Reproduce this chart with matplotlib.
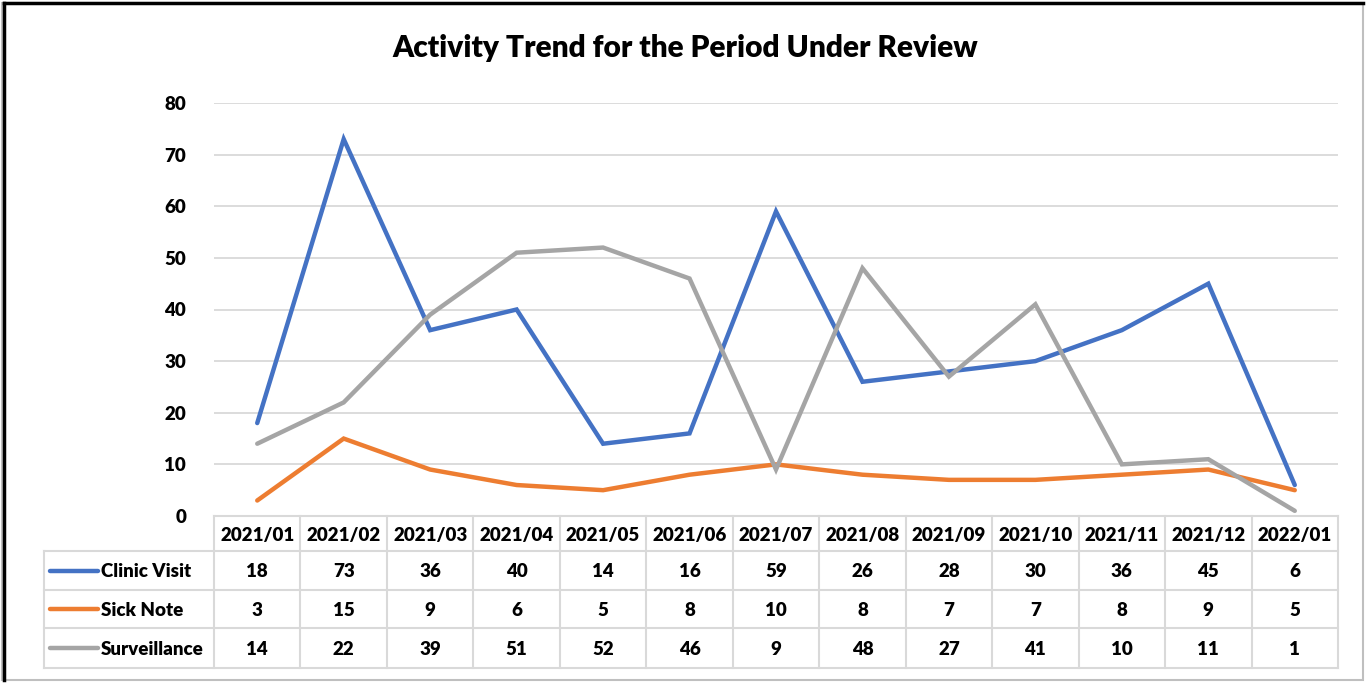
import matplotlib
matplotlib.use('Agg')
import matplotlib.pyplot as plt
from matplotlib.lines import Line2D
from matplotlib.patches import Rectangle

# data
months = ["2021/01", "2021/02", "2021/03", "2021/04", "2021/05", "2021/06", "2021/07",
          "2021/08", "2021/09", "2021/10", "2021/11", "2021/12", "2022/01"]
clinic_visit = [18, 73, 36, 40, 14, 16, 59, 26, 28, 30, 36, 45, 6]
sick_note = [3, 15, 9, 6, 5, 8, 10, 8, 7, 7, 8, 9, 5]
surveillance = [14, 22, 39, 51, 52, 46, 9, 48, 27, 41, 10, 11, 1]
series_names = ["Clinic Visit", "Sick Note", "Surveillance"]
series_colors = ["#4472C4", "#ED7D31", "#A5A5A5"]
yticks = [0, 10, 20, 30, 40, 50, 60, 70, 80]

plt.rcParams['font.family'] = ['Lato', 'DejaVu Sans']
plt.rcParams['font.weight'] = 'heavy'
FW = 'heavy'

W, H = 1367, 683
fig = plt.figure(figsize=(W / 100, H / 100), dpi=100)

def px(x0, y0, x1, y1):
    # pixel box (top-left origin) -> figure fraction rect
    return [x0 / W, 1 - y1 / H, (x1 - x0) / W, (y1 - y0) / H]

# chart border
fig.patches.append(Rectangle((2 / W, 3 / H), (W - 6) / W, (H - 6) / H, transform=fig.transFigure,
                             fill=False, edgecolor='#BFBFBF', linewidth=1.5))
fig.add_artist(Line2D([4 / W, 4 / W], [3 / H, 1 - 3 / H], transform=fig.transFigure, color='black', lw=2.5))
fig.add_artist(Line2D([4 / W, 1 - 4 / W], [1 - 3 / H, 1 - 3 / H], transform=fig.transFigure, color='black', lw=2.5))

fig.text(685 / W, 1 - 48 / H, "Activity Trend for the Period Under Review", ha='center', va='center',
         fontsize=21.5, fontweight=FW)

# line chart
ax = fig.add_axes(px(214, 103, 1338, 516))
x = list(range(len(months)))
for i, (vals, name, col) in enumerate(zip([clinic_visit, sick_note, surveillance], series_names, series_colors)):
    ax.plot(x, vals, color=col, lw=3.2, solid_joinstyle='miter', solid_capstyle='round', zorder=3 + i)
ax.set_xlim(-0.5, len(months) - 0.5)
ax.set_ylim(0, 80)
ax.set_yticks(yticks)
ax.set_yticklabels([str(t) for t in yticks], fontsize=13.5, fontweight=FW)
ax.tick_params(axis='y', length=0, pad=20)
ax.set_xticks([])
for t in yticks[1:]:
    ax.axhline(t, color='#D9D9D9', lw=1.3, zorder=1)
for s in ax.spines.values():
    s.set_visible(False)

# data table below
tab = fig.add_axes(px(214, 516, 1338, 668))
tab.set_xlim(-0.5, len(months) - 0.5)
tab.set_ylim(4, 0)
tab.axis('off')
row_edges = [0, 0.92, 1.95, 2.95, 4.0]
grid_col = '#D9D9D9'
lw = 1.5
# horizontal lines
tab.plot([-0.5, len(months) - 0.5], [0, 0], color=grid_col, lw=lw, clip_on=False)
label_left = -0.5 - 170 / 86.5
for ye in row_edges[1:]:
    tab.plot([label_left, len(months) - 0.5], [ye, ye], color=grid_col, lw=lw, clip_on=False)
# vertical lines
for i in range(len(months) + 1):
    tab.plot([i - 0.5, i - 0.5], [0, 4.0], color=grid_col, lw=lw, clip_on=False)
tab.plot([label_left, label_left], [row_edges[1], 4.0], color=grid_col, lw=lw, clip_on=False)

for i, m in enumerate(months):
    tab.text(i, row_edges[0] + 0.5, m, ha='center', va='center', fontsize=13.5, fontweight=FW)
for r, vals in enumerate([clinic_visit, sick_note, surveillance]):
    yc = (row_edges[r + 1] + row_edges[r + 2]) / 2
    for i, v in enumerate(vals):
        tab.text(i, yc + 0.03, str(v), ha='center', va='center', fontsize=13.5, fontweight=FW)
    # legend key + name
    k0 = -0.5 - 164 / 86.5
    k1 = -0.5 - 116 / 86.5
    tab.plot([k0, k1], [yc, yc], color=series_colors[r], lw=3.2, solid_capstyle='round', clip_on=False)
    tab.text(-0.5 - 113 / 86.5, yc + 0.03, series_names[r], ha='left', va='center', fontsize=13.5,
             fontweight=FW)

fig.savefig('out.png', dpi=100)
